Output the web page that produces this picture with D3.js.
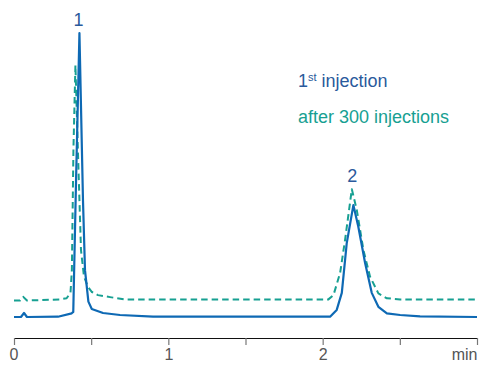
<!DOCTYPE html>
<html>
<head>
<meta charset="utf-8">
<script src="https://cdn.jsdelivr.net/npm/d3@7"></script>
<style>
  body { margin: 0; background: white; }
  svg text { font-family: "Liberation Sans", Arial, sans-serif; }
</style>
</head>
<body>
<div id="chart"></div>
<script>
// retention time (min) and signal, first injection
var firstTime = [0, 0.045, 0.065, 0.084, 0.285, 0.374, 0.384, 0.402, 0.424, 0.447, 0.460, 0.482, 0.504, 0.577, 0.687, 0.901,
  2.048, 2.091, 2.124, 2.156, 2.199, 2.231, 2.275, 2.318, 2.361, 2.416, 2.502, 2.631, 3.0];
var firstSignal = [0, 0, 1.4, 0, 0.1, 1.3, 1.8, 48, 100, 41, 16.5, 5.4, 2.8, 1.4, 0.7, 0.1,
  0.1, 2.5, 8.5, 26, 39.4, 31.8, 19, 8.5, 3.6, 1.3, 0.7, 0.2, 0];

// after 300 injections
var afterTime = [0, 0.039, 0.060, 0.084, 0.298, 0.341, 0.366, 0.375, 0.385, 0.398, 0.414, 0.434, 0.453, 0.479, 0.505, 0.544, 0.622, 0.718,
  2.037, 2.070, 2.113, 2.145, 2.189, 2.221, 2.264, 2.307, 2.361, 2.416, 2.502, 3.0];
var afterSignal = [5.8, 5.8, 7.1, 5.8, 6.2, 6.6, 8.5, 16.5, 58.8, 88.7, 58.8, 23.6, 14.4, 10.6, 8.8, 7.7, 7.0, 6.2,
  6.2, 7.7, 15.5, 27.1, 45, 37.7, 23.6, 14.2, 8.3, 6.6, 6.2, 6.2];

var peakLabels = ["1", "2"];
var peakTimes = [0.424, 2.199];
var peakTops = [100, 45];

var tickValues = [0, 0.5, 1, 1.5, 2, 2.5, 3];
var tickLabels = { 0: "0", 1: "1", 2: "2", 3: "min" };

var W = 479, H = 367;
var blue = "#0e69b4", teal = "#17a092", darkBlue = "#2a5a9c";

var svg = d3.select("#chart").append("svg")
  .attr("width", W)
  .attr("height", H);

var x = d3.scaleLinear().domain([0, 3]).range([14, 477]);
var y = d3.scaleLinear().domain([0, 100]).range([317, 33]);

var first = firstTime.map(function (t, i) { return { t: t, v: firstSignal[i] }; });
var after = afterTime.map(function (t, i) { return { t: t, v: afterSignal[i] }; });

var line = d3.line()
  .x(function (d) { return x(d.t); })
  .y(function (d) { return y(d.v); });

// axis
var xAxis = svg.append("g")
  .attr("transform", "translate(0,338)")
  .call(d3.axisBottom(x).tickValues(tickValues).tickSize(7).tickFormat(function (d) { return tickLabels[d] || ""; }));
xAxis.select(".domain").attr("stroke", "#111").attr("stroke-width", 1.2).attr("d", "M14,0.5H477");
xAxis.selectAll(".tick line").attr("stroke", "#777").attr("stroke-width", 1.2);
xAxis.selectAll(".tick text")
  .attr("fill", "#555")
  .attr("y", 11)
  .style("font-size", "16px")
  .attr("text-anchor", function (d) { return d === 0 ? "start" : (d === 3 ? "end" : "middle"); })
  .attr("dx", function (d) { return d === 0 ? -5 : 0; });

svg.append("path")
  .datum(after)
  .attr("fill", "none")
  .attr("stroke", teal)
  .attr("stroke-width", 2)
  .attr("stroke-dasharray", "6.5,4")
  .attr("stroke-linejoin", "round")
  .attr("d", line);

svg.append("path")
  .datum(first)
  .attr("fill", "none")
  .attr("stroke", blue)
  .attr("stroke-width", 2.2)
  .attr("stroke-linejoin", "round")
  .attr("d", line);

// peak numbers
svg.selectAll(".peak")
  .data(peakLabels)
  .enter().append("text")
  .attr("class", "peak")
  .attr("x", function (d, i) { return x(peakTimes[i]) - 1; })
  .attr("y", function (d, i) { return y(peakTops[i]) - 7; })
  .attr("text-anchor", "middle")
  .attr("fill", darkBlue)
  .style("font-size", "18px")
  .text(function (d) { return d; });

// legend
var l1 = svg.append("text")
  .attr("x", 298)
  .attr("y", 87)
  .attr("fill", darkBlue)
  .style("font-size", "18px");
l1.append("tspan").text("1");
l1.append("tspan").attr("dy", -6).style("font-size", "11px").text("st");
l1.append("tspan").attr("dy", 6).text(" injection");

svg.append("text")
  .attr("x", 298)
  .attr("y", 123)
  .attr("fill", teal)
  .style("font-size", "18px")
  .text("after 300 injections");
</script>
</body>
</html>
